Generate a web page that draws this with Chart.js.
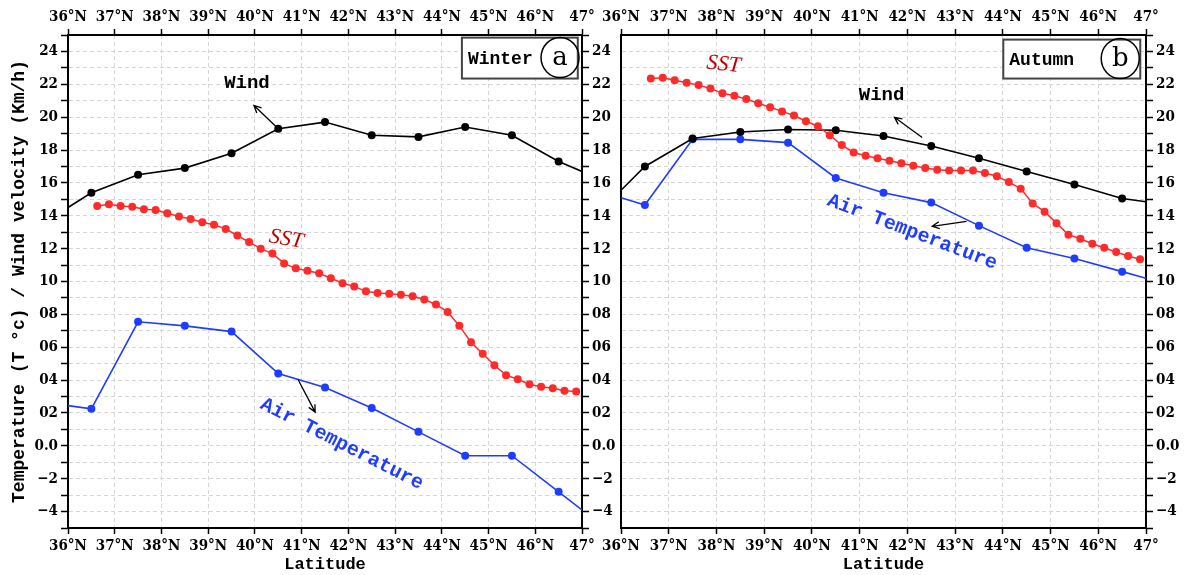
<!DOCTYPE html>
<html>
<head>
<meta charset="utf-8">
<script src="https://cdn.jsdelivr.net/npm/chart.js@4.4.0/dist/chart.umd.min.js"></script>
<style>
  html, body { margin: 0; padding: 0; background: #fff; }
  #wrap { position: relative; width: 1185px; height: 575px; overflow: hidden; }
  canvas { position: absolute; top: 0; }
  #winter { left: 0; }
  #autumn { left: 560px; }
</style>
</head>
<body>
<div id="wrap">
  <canvas id="winter" width="640" height="575"></canvas>
  <canvas id="autumn" width="625" height="575"></canvas>
</div>
<script>
// ======= data =======
// station latitudes (line runs on to the frame at 36 and 47)
const stationLat = [36, 36.5, 37.5, 38.5, 39.5, 40.5, 41.5, 42.5, 43.5, 44.5, 45.5, 46.5, 47];
const windWinter = [14.5, 15.4, 16.5, 16.9, 17.8, 19.3, 19.7, 18.9, 18.8, 19.4, 18.9, 17.3, 16.7];
const airWinter = [2.45, 2.25, 7.55, 7.3, 6.95, 4.4, 3.55, 2.3, 0.85, -0.6, -0.6, -2.8, -3.9];
const windAutumn = [15.55, 17.0, 18.7, 19.1, 19.25, 19.2, 18.85, 18.25, 17.5, 16.7, 15.9, 15.05, 14.85];
const airAutumn = [15.1, 14.65, 18.65, 18.65, 18.45, 16.3, 15.4, 14.8, 13.4, 12.05, 11.4, 10.6, 10.2];

// SST grid latitudes
const sstLat = [
  36.625, 36.875, 37.125, 37.375, 37.625, 37.875, 38.125, 38.375, 38.625, 38.875,
  39.125, 39.375, 39.625, 39.875, 40.125, 40.375, 40.625, 40.875, 41.125, 41.375,
  41.625, 41.875, 42.125, 42.375, 42.625, 42.875, 43.125, 43.375, 43.625, 43.875,
  44.125, 44.375, 44.625, 44.875, 45.125, 45.375, 45.625, 45.875, 46.125, 46.375,
  46.625, 46.875
];
const sstWinter = [
  14.6, 14.7, 14.6, 14.55, 14.4, 14.35, 14.15, 13.95, 13.8, 13.6,
  13.45, 13.2, 12.8, 12.4, 12.0, 11.7, 11.1, 10.8, 10.65, 10.5,
  10.2, 9.9, 9.7, 9.4, 9.3, 9.25, 9.2, 9.1, 8.9, 8.6,
  8.15, 7.3, 6.3, 5.6, 4.9, 4.3, 4.05, 3.75, 3.6, 3.5,
  3.35, 3.3
];
const sstAutumn = [
  22.35, 22.4, 22.25, 22.1, 21.95, 21.75, 21.45, 21.3, 21.1, 20.85,
  20.6, 20.35, 20.1, 19.75, 19.45, 18.9, 18.3, 17.85, 17.65, 17.5,
  17.35, 17.2, 17.05, 16.9, 16.8, 16.75, 16.75, 16.75, 16.6, 16.4,
  16.05, 15.65, 14.75, 14.25, 13.55, 12.85, 12.6, 12.3, 12.05, 11.8,
  11.55, 11.35
];

// tick labels
const xTickValues = [36, 37, 38, 39, 40, 41, 42, 43, 44, 45, 46, 47];
const xTickLabels = ["36°N", "37°N", "38°N", "39°N", "40°N", "41°N", "42°N", "43°N", "44°N", "45°N", "46°N", "47°"];
const yTickValues = [24, 22, 20, 18, 16, 14, 12, 10, 8, 6, 4, 2, 0, -2, -4];
const yTickLabels = ["24", "22", "20", "18", "16", "14", "12", "10", "08", "06", "04", "02", "0.0", "\u22122", "\u22124"];

// ======= helpers =======
const TICK_FONT = { family: "'DejaVu Serif Condensed', 'DejaVu Serif'", size: 15, weight: "bold" };
const MONO = "'Liberation Mono', 'DejaVu Sans Mono', monospace";
const RED = "#ff2a2a";
const BLUE = "#1f3cff";

function xLabel(v) {
  const i = xTickValues.indexOf(v);
  return i < 0 ? "" : xTickLabels[i];
}
function yLabel(v) {
  const i = yTickValues.indexOf(v);
  return i < 0 ? "" : yTickLabels[i];
}
function pairs(xs, ys) {
  return xs.map((x, i) => ({ x, y: ys[i] }));
}
function edgeRadius(r) {
  // the first/last entries only carry the line to the frame
  return (c) => (c.dataIndex === 0 || c.dataIndex === stationLat.length - 1 ? 0 : r);
}

function arrow(ctx, x1, y1, x2, y2) {
  const a = Math.atan2(y2 - y1, x2 - x1);
  ctx.beginPath();
  ctx.moveTo(x1, y1);
  ctx.lineTo(x2, y2);
  ctx.moveTo(x2 - 8 * Math.cos(a - 0.45), y2 - 8 * Math.sin(a - 0.45));
  ctx.lineTo(x2, y2);
  ctx.lineTo(x2 - 8 * Math.cos(a + 0.45), y2 - 8 * Math.sin(a + 0.45));
  ctx.stroke();
}

const notePlugin = {
  id: "notes",
  afterDatasetsDraw(chart, args, opts) {
    const ctx = chart.ctx;
    const px = (v) => chart.scales.x.getPixelForValue(v);
    const py = (v) => chart.scales.y.getPixelForValue(v);
    ctx.save();

    // season box
    const b = opts.box;
    const bx1 = px(b.from[0]), by1 = py(b.from[1]);
    const bx2 = px(b.to[0]), by2 = py(b.to[1]);
    ctx.fillStyle = "#fff";
    ctx.fillRect(bx1, by1, bx2 - bx1, by2 - by1);
    ctx.strokeStyle = "#444";
    ctx.lineWidth = 2;
    ctx.strokeRect(bx1, by1, bx2 - bx1, by2 - by1);
    ctx.fillStyle = "#000";
    ctx.font = "bold 18px " + MONO;
    ctx.textAlign = "left";
    ctx.textBaseline = "middle";
    ctx.fillText(b.text, bx1 + 6, (by1 + by2) / 2 + 1);
    const cx = px(b.circle[0]), cy = py(b.circle[1]);
    ctx.beginPath();
    ctx.ellipse(cx, cy, 19, 20, 0, 0, Math.PI * 2);
    ctx.lineWidth = 1.5;
    ctx.strokeStyle = "#000";
    ctx.stroke();
    ctx.font = "26px 'DejaVu Serif'";
    ctx.textAlign = "center";
    ctx.fillText(b.letter, cx, cy + 1);

    // labels
    opts.labels.forEach((l) => {
      ctx.save();
      ctx.translate(px(l.at[0]), py(l.at[1]));
      ctx.rotate((l.angle * Math.PI) / 180);
      ctx.font = l.font;
      ctx.fillStyle = l.color;
      ctx.textAlign = "center";
      ctx.textBaseline = "middle";
      ctx.fillText(l.text, 0, 0);
      ctx.restore();
    });

    // arrows
    ctx.strokeStyle = "#000";
    ctx.lineWidth = 1.3;
    opts.arrows.forEach((a) => arrow(ctx, px(a.from[0]), py(a.from[1]), px(a.to[0]), py(a.to[1])));
    ctx.restore();
  },
};

function makePanel(id, sizes, series, notes, showLeft) {
  const fixW = (w) => (s) => { s.width = w; };
  const fixH = (h) => (s) => { s.height = h; };
  const tickGrid = { drawOnChartArea: false, tickLength: 6, tickColor: "#000", tickWidth: 1.5, tickBorderDash: [] };
  const frame = { color: "#000", width: 2 };

  return new Chart(document.getElementById(id), {
    type: "line",
    data: {
      datasets: [
        {
          label: "SST",
          data: pairs(sstLat, series.sst),
          borderColor: RED,
          backgroundColor: RED,
          borderWidth: 1.5,
          pointRadius: 4,
          pointBorderWidth: 0,
          tension: 0,
        },
        {
          label: "Wind",
          data: pairs(stationLat, series.wind),
          borderColor: "#000",
          backgroundColor: "#000",
          borderWidth: 1.6,
          pointRadius: edgeRadius(4),
          pointBorderWidth: 0,
          tension: 0,
        },
        {
          label: "Air Temperature",
          data: pairs(stationLat, series.air),
          borderColor: BLUE,
          backgroundColor: BLUE,
          borderWidth: 1.6,
          pointRadius: edgeRadius(4),
          pointBorderWidth: 0,
          tension: 0,
        },
      ],
    },
    options: {
      responsive: false,
      animation: false,
      events: [],
      layout: { padding: 0 },
      plugins: { legend: { display: false }, tooltip: { enabled: false }, notes },
      scales: {
        x: {
          type: "linear",
          position: "bottom",
          min: 36,
          max: 47,
          afterFit: fixH(sizes.bottom),
          ticks: { stepSize: 1, callback: xLabel, font: TICK_FONT, color: "#000", padding: 3, maxRotation: 0, autoSkip: false },
          grid: { color: "#d6d6d6", lineWidth: 1, tickLength: 6, tickColor: "#000", tickWidth: 1.5, tickBorderDash: [] },
          border: { color: "#000", width: 2, dash: [4, 3] },
          title: {
            display: true,
            text: "Latitude",
            color: "#000",
            font: { family: MONO, size: 17, weight: "bold" },
            padding: { top: 0, bottom: 0 },
          },
        },
        x2: {
          type: "linear",
          position: "top",
          min: 36,
          max: 47,
          afterFit: fixH(sizes.top),
          ticks: { stepSize: 1, callback: xLabel, font: TICK_FONT, color: "#000", padding: 3, maxRotation: 0, autoSkip: false },
          grid: tickGrid,
          border: frame,
        },
        y: {
          type: "linear",
          position: "left",
          min: -5,
          max: 25,
          afterFit: fixW(sizes.left),
          ticks: { stepSize: 1, callback: yLabel, display: showLeft, font: TICK_FONT, color: "#000", padding: 3, autoSkip: false },
          grid: { color: "#d6d6d6", lineWidth: 1, drawTicks: showLeft, tickLength: 7, tickColor: "#000", tickWidth: 1.5, tickBorderDash: [] },
          border: { color: "#000", width: 2, dash: [4, 3] },
          title: {
            display: showLeft,
            text: "Temperature (T \u00b0c) / Wind velocity (Km/h)",
            color: "#000",
            font: { family: MONO, size: 18, weight: "bold" },
            padding: { top: 9, bottom: 0 },
          },
        },
        y2: {
          type: "linear",
          position: "right",
          min: -5,
          max: 25,
          afterFit: fixW(sizes.right),
          ticks: { stepSize: 1, callback: yLabel, font: TICK_FONT, color: "#000", padding: 3, autoSkip: false },
          grid: Object.assign({}, tickGrid, { tickLength: 7 }),
          border: frame,
        },
      },
    },
    plugins: [notePlugin],
  });
}

// ======= panels =======
makePanel(
  "winter",
  { left: 68, right: 58, top: 35, bottom: 47 },
  { wind: windWinter, air: airWinter, sst: sstWinter },
  {
    box: { from: [44.43, 24.84], to: [46.91, 22.35], text: "Winter", circle: [46.53, 23.63], letter: "a" },
    labels: [
      { text: "Wind", at: [39.83, 22.04], angle: 0, color: "#000", font: "bold 19px " + MONO },
      { text: "SST", at: [40.67, 12.57], angle: 10, color: "#c00000", font: "italic 22px 'Liberation Serif'" },
      { text: "Air Temperature", at: [41.86, 0.1], angle: 27, color: BLUE, font: "bold 20px " + MONO },
    ],
    arrows: [
      { from: [40.45, 19.43], to: [39.98, 20.71] },
      { from: [40.92, 4.05], to: [41.29, 2.05] },
    ],
  },
  true
);

makePanel(
  "autumn",
  { left: 61, right: 39, top: 35, bottom: 47 },
  { wind: windAutumn, air: airAutumn, sst: sstAutumn },
  {
    box: { from: [44.01, 24.72], to: [46.88, 22.35], text: "Autumn", circle: [46.46, 23.57], letter: "b" },
    labels: [
      { text: "Wind", at: [41.46, 21.32], angle: 0, color: "#000", font: "bold 19px " + MONO },
      { text: "SST", at: [38.15, 23.2], angle: 6, color: "#c00000", font: "italic 22px 'Liberation Serif'" },
      { text: "Air Temperature", at: [42.1, 13.0], angle: 21, color: BLUE, font: "bold 20px " + MONO },
    ],
    arrows: [
      { from: [42.31, 18.76], to: [41.73, 19.99] },
      { from: [43.24, 13.66], to: [42.52, 13.36] },
    ],
  },
  false
);
</script>
</body>
</html>
